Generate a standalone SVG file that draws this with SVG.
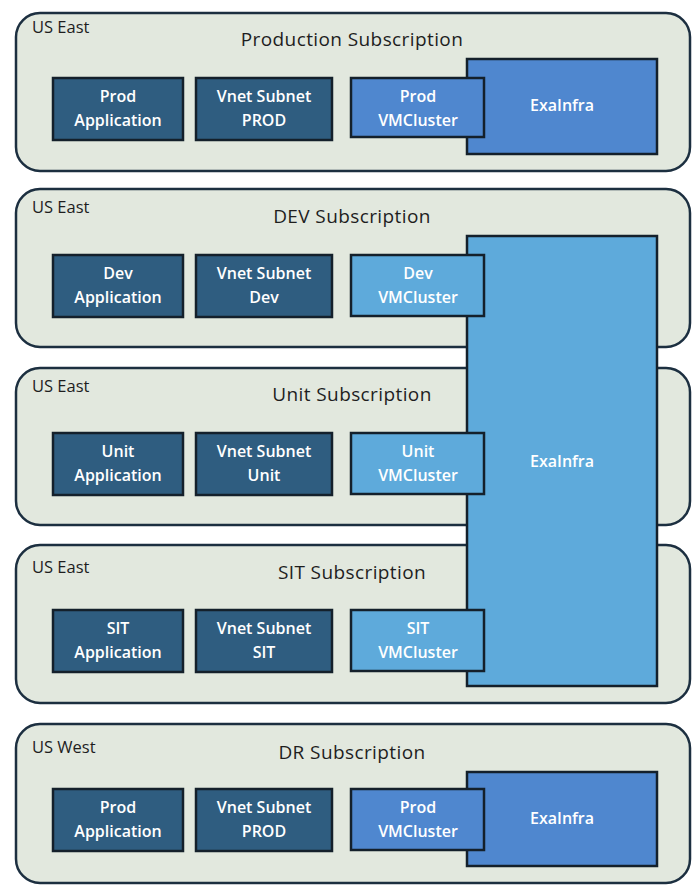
<svg xmlns="http://www.w3.org/2000/svg" width="699" height="892" viewBox="0 0 699 892">
<style>
.panel{fill:#e2e8de;stroke:#1c2f40;stroke-width:2.5}
.dark{fill:#2f5d80;stroke:#14202b;stroke-width:2.5}
.blue{fill:#4f87cf;stroke:#14202b;stroke-width:2.5}
.light{fill:#5eaadb;stroke:#14202b;stroke-width:2.5}
.t{font-family:"Open Sans","Liberation Sans",Arial,sans-serif;font-weight:600;font-size:16px;fill:#ffffff;text-anchor:middle}
.title{font-family:"Open Sans","Liberation Sans",Arial,sans-serif;font-weight:500;font-size:19px;letter-spacing:0.4px;fill:#1e1e1e;text-anchor:middle}
.region{font-family:"Open Sans","Liberation Sans",Arial,sans-serif;font-weight:500;font-size:16.5px;fill:#1e1e1e}
</style>
<rect width="699" height="892" fill="#ffffff"/>
<g id="panel-prod">
<rect class="panel" x="16" y="13" width="674" height="158" rx="24"/>
<text class="region" x="32" y="33">US East</text>
<text class="title" x="352" y="46">Production Subscription</text>
</g>
<g id="panel-dev">
<rect class="panel" x="16" y="189" width="674" height="158" rx="24"/>
<text class="region" x="32" y="213">US East</text>
<text class="title" x="352" y="223">DEV Subscription</text>
</g>
<g id="panel-unit">
<rect class="panel" x="16" y="368" width="674" height="157" rx="24"/>
<text class="region" x="32" y="392">US East</text>
<text class="title" x="352" y="401">Unit Subscription</text>
</g>
<g id="panel-sit">
<rect class="panel" x="16" y="545" width="674" height="158" rx="24"/>
<text class="region" x="32" y="573">US East</text>
<text class="title" x="352" y="579">SIT Subscription</text>
</g>
<g id="panel-dr">
<rect class="panel" x="16" y="724" width="674" height="159" rx="24"/>
<text class="region" x="32" y="753">US West</text>
<text class="title" x="352" y="759">DR Subscription</text>
</g>
<g id="exainfra-prod">
<rect class="blue" x="467" y="59" width="190" height="95"/>
<text class="t" x="562" y="111">ExaInfra</text>
</g>
<g id="exainfra-shared">
<rect class="light" x="467" y="236" width="190" height="450"/>
<text class="t" x="562" y="467">ExaInfra</text>
</g>
<g id="exainfra-dr">
<rect class="blue" x="467" y="772" width="190" height="94"/>
<text class="t" x="562" y="824">ExaInfra</text>
</g>
<g id="prod-app">
<rect class="dark" x="53" y="78" width="130" height="62"/>
<text class="t" x="118" y="102">Prod</text>
<text class="t" x="118" y="126">Application</text>
</g>
<g id="prod-vnet">
<rect class="dark" x="196" y="78" width="136" height="62"/>
<text class="t" x="264" y="102">Vnet Subnet</text>
<text class="t" x="264" y="126">PROD</text>
</g>
<g id="prod-vmc">
<rect class="blue" x="351" y="78" width="133" height="59"/>
<text class="t" x="418" y="102">Prod</text>
<text class="t" x="418" y="126">VMCluster</text>
</g>
<g id="dev-app">
<rect class="dark" x="53" y="255" width="130" height="62"/>
<text class="t" x="118" y="279">Dev</text>
<text class="t" x="118" y="303">Application</text>
</g>
<g id="dev-vnet">
<rect class="dark" x="196" y="255" width="136" height="62"/>
<text class="t" x="264" y="279">Vnet Subnet</text>
<text class="t" x="264" y="303">Dev</text>
</g>
<g id="dev-vmc">
<rect class="light" x="351" y="255" width="133" height="61"/>
<text class="t" x="418" y="279">Dev</text>
<text class="t" x="418" y="303">VMCluster</text>
</g>
<g id="unit-app">
<rect class="dark" x="53" y="433" width="130" height="62"/>
<text class="t" x="118" y="457">Unit</text>
<text class="t" x="118" y="481">Application</text>
</g>
<g id="unit-vnet">
<rect class="dark" x="196" y="433" width="136" height="62"/>
<text class="t" x="264" y="457">Vnet Subnet</text>
<text class="t" x="264" y="481">Unit</text>
</g>
<g id="unit-vmc">
<rect class="light" x="351" y="433" width="133" height="61"/>
<text class="t" x="418" y="457">Unit</text>
<text class="t" x="418" y="481">VMCluster</text>
</g>
<g id="sit-app">
<rect class="dark" x="53" y="610" width="130" height="62"/>
<text class="t" x="118" y="634">SIT</text>
<text class="t" x="118" y="658">Application</text>
</g>
<g id="sit-vnet">
<rect class="dark" x="196" y="610" width="136" height="62"/>
<text class="t" x="264" y="634">Vnet Subnet</text>
<text class="t" x="264" y="658">SIT</text>
</g>
<g id="sit-vmc">
<rect class="light" x="351" y="610" width="133" height="61"/>
<text class="t" x="418" y="634">SIT</text>
<text class="t" x="418" y="658">VMCluster</text>
</g>
<g id="dr-app">
<rect class="dark" x="53" y="789" width="130" height="62"/>
<text class="t" x="118" y="813">Prod</text>
<text class="t" x="118" y="837">Application</text>
</g>
<g id="dr-vnet">
<rect class="dark" x="196" y="789" width="136" height="62"/>
<text class="t" x="264" y="813">Vnet Subnet</text>
<text class="t" x="264" y="837">PROD</text>
</g>
<g id="dr-vmc">
<rect class="blue" x="351" y="789" width="133" height="61"/>
<text class="t" x="418" y="813">Prod</text>
<text class="t" x="418" y="837">VMCluster</text>
</g>
<g id="connectors"></g>
</svg>
